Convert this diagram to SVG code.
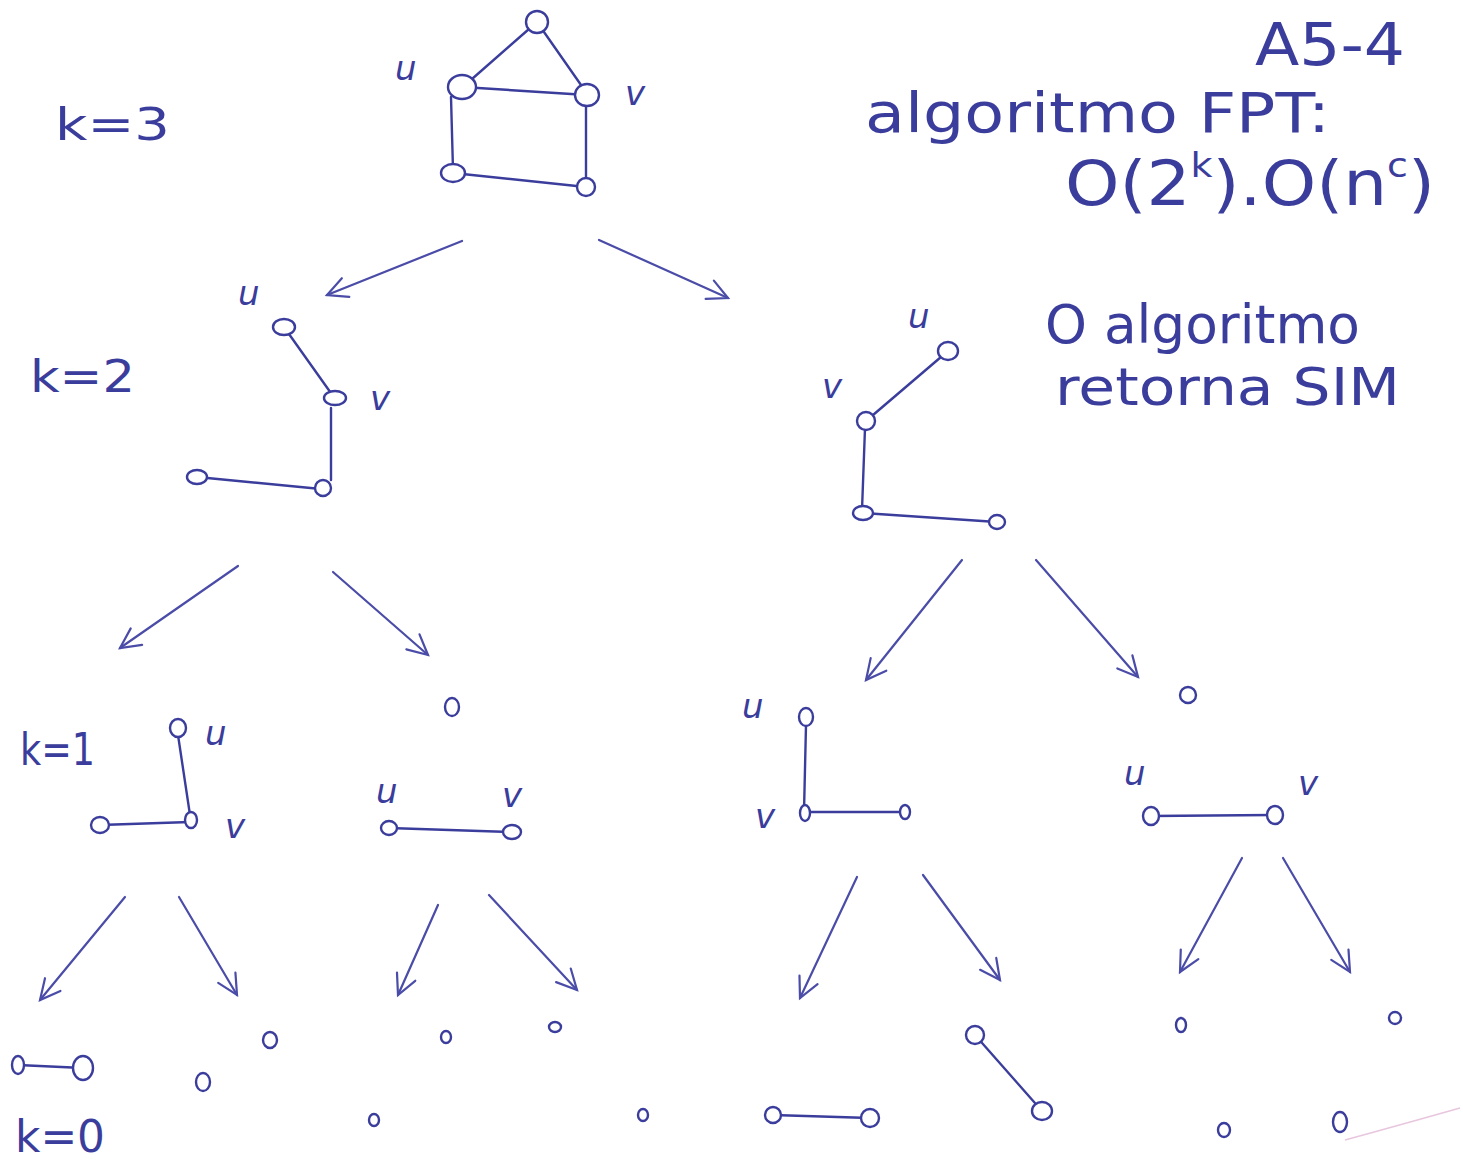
<svg xmlns="http://www.w3.org/2000/svg" width="1463" height="1160" viewBox="0 0 1463 1160">
<style>
.e{stroke:#3b3d9c;stroke-width:2.4;fill:none;stroke-linecap:round}
.n{stroke:#3b3d9c;stroke-width:2.4;fill:#fff}
.a{stroke:#4a4ca8;stroke-width:2.2;fill:none;stroke-linecap:round}
.t{fill:#3b3d9c;font-family:"DejaVu Sans","Liberation Sans",sans-serif;font-weight:normal}
.l{fill:#3b3d9c;font-family:"DejaVu Sans","Liberation Sans",sans-serif;font-size:34px;font-style:italic}
</style>
<defs>
<marker id="ah" markerUnits="userSpaceOnUse" markerWidth="26" markerHeight="26" refX="22" refY="12" orient="auto">
<path d="M2,2 L22,12 L2,22" fill="none" stroke="#4a4ca8" stroke-width="2.2" stroke-linecap="round"/>
</marker>
</defs>
<rect width="1463" height="1160" fill="#fff"/>
<g id="texts">
<text class="t" x="1255" y="65" font-size="58" textLength="150" lengthAdjust="spacingAndGlyphs">A5-4</text>
<text class="t" x="865" y="132" font-size="56" textLength="465" lengthAdjust="spacingAndGlyphs">algoritmo FPT:</text>
<text class="t" x="1065" y="205" font-size="62" textLength="370" lengthAdjust="spacingAndGlyphs">O(2<tspan font-size="34" dy="-28">k</tspan><tspan dy="28">).O(n</tspan><tspan font-size="34" dy="-28">c</tspan><tspan dy="28">)</tspan></text>
<text class="t" x="1045" y="343" font-size="54" textLength="315" lengthAdjust="spacingAndGlyphs">O algoritmo</text>
<text class="t" x="1055" y="405" font-size="52" textLength="345" lengthAdjust="spacingAndGlyphs">retorna SIM</text>
<text class="t" x="55" y="140" font-size="44" textLength="115" lengthAdjust="spacingAndGlyphs">k=3</text>
<text class="t" x="30" y="392" font-size="44" textLength="105" lengthAdjust="spacingAndGlyphs">k=2</text>
<text class="t" x="20" y="765" font-size="44" textLength="75" lengthAdjust="spacingAndGlyphs">k=1</text>
<text class="t" x="15" y="1152" font-size="44" textLength="90" lengthAdjust="spacingAndGlyphs">k=0</text>
</g>
<g id="connectors">
<line class="a" x1="462" y1="241" x2="327" y2="295" marker-end="url(#ah)"/>
<line class="a" x1="599" y1="240" x2="728" y2="298" marker-end="url(#ah)"/>
<line class="a" x1="238" y1="566" x2="120" y2="648" marker-end="url(#ah)"/>
<line class="a" x1="333" y1="572" x2="428" y2="655" marker-end="url(#ah)"/>
<line class="a" x1="962" y1="560" x2="866" y2="680" marker-end="url(#ah)"/>
<line class="a" x1="1036" y1="560" x2="1138" y2="677" marker-end="url(#ah)"/>
<line class="a" x1="125" y1="897" x2="40" y2="1000" marker-end="url(#ah)"/>
<line class="a" x1="179" y1="897" x2="237" y2="995" marker-end="url(#ah)"/>
<line class="a" x1="438" y1="905" x2="398" y2="995" marker-end="url(#ah)"/>
<line class="a" x1="489" y1="895" x2="577" y2="990" marker-end="url(#ah)"/>
<line class="a" x1="857" y1="877" x2="800" y2="998" marker-end="url(#ah)"/>
<line class="a" x1="923" y1="875" x2="1000" y2="980" marker-end="url(#ah)"/>
<line class="a" x1="1242" y1="858" x2="1180" y2="972" marker-end="url(#ah)"/>
<line class="a" x1="1283" y1="858" x2="1350" y2="972" marker-end="url(#ah)"/>
</g>
<g id="g3">
<path class="e" d="M537,22 L464,86 M537,22 L588,95 M462,87 L587,95 M451,97 L453,170 M586,105 L586,185 M453,173 L586,187"/>
<circle class="n" cx="537" cy="22" r="11"/>
<ellipse class="n" cx="462" cy="87" rx="14" ry="12"/>
<ellipse class="n" cx="587" cy="95" rx="12" ry="11"/>
<ellipse class="n" cx="453" cy="173" rx="12" ry="9"/>
<circle class="n" cx="586" cy="187" r="9"/>
<text class="l" x="395" y="80">u</text>
<text class="l" x="625" y="105">v</text>
</g>
<g id="g2a">
<path class="e" d="M284,327 L333,396 M331,408 L331,480 M197,477 L321,489"/>
<ellipse class="n" cx="284" cy="327" rx="11" ry="8"/>
<ellipse class="n" cx="335" cy="398" rx="11" ry="7"/>
<circle class="n" cx="323" cy="488" r="8"/>
<ellipse class="n" cx="197" cy="477" rx="10" ry="7"/>
<text class="l" x="238" y="305">u</text>
<text class="l" x="370" y="410">v</text>
</g>
<g id="g2b">
<path class="e" d="M948,351 L866,421 M865,428 L862,510 M863,513 L997,522"/>
<ellipse class="n" cx="948" cy="351" rx="10" ry="9"/>
<ellipse class="n" cx="866" cy="421" rx="9" ry="9"/>
<ellipse class="n" cx="863" cy="513" rx="10" ry="7"/>
<ellipse class="n" cx="997" cy="522" rx="8" ry="7"/>
<text class="l" x="908" y="328">u</text>
<text class="l" x="822" y="398">v</text>
</g>
<g id="g1a">
<path class="e" d="M178,735 L190,815 M100,825 L190,822"/>
<ellipse class="n" cx="178" cy="728" rx="8" ry="9"/>
<ellipse class="n" cx="191" cy="820" rx="6" ry="8"/>
<ellipse class="n" cx="100" cy="825" rx="9" ry="8"/>
<text class="l" x="205" y="745">u</text>
<text class="l" x="225" y="838">v</text>
</g>
<g id="g1b">
<path class="e" d="M389,828 L512,832"/>
<ellipse class="n" cx="452" cy="707" rx="7" ry="9"/>
<ellipse class="n" cx="389" cy="828" rx="8" ry="7"/>
<ellipse class="n" cx="512" cy="832" rx="9" ry="7"/>
<text class="l" x="376" y="803">u</text>
<text class="l" x="502" y="807">v</text>
</g>
<g id="g1c">
<path class="e" d="M806,725 L804,812 M804,812 L905,812"/>
<ellipse class="n" cx="806" cy="717" rx="7" ry="9"/>
<ellipse class="n" cx="805" cy="813" rx="5" ry="8"/>
<ellipse class="n" cx="905" cy="812" rx="5" ry="7"/>
<text class="l" x="742" y="718">u</text>
<text class="l" x="755" y="828">v</text>
</g>
<g id="g1d">
<path class="e" d="M1151,816 L1275,815"/>
<ellipse class="n" cx="1188" cy="695" rx="8" ry="8"/>
<ellipse class="n" cx="1151" cy="816" rx="8" ry="9"/>
<ellipse class="n" cx="1275" cy="815" rx="8" ry="9"/>
<text class="l" x="1124" y="785">u</text>
<text class="l" x="1298" y="795">v</text>
</g>
<g id="g0">
<path class="e" d="M18,1065 L83,1068 M773,1115 L870,1118 M975,1035 L1042,1111"/>
<ellipse class="n" cx="18" cy="1065" rx="6" ry="9"/>
<ellipse class="n" cx="83" cy="1068" rx="10" ry="12"/>
<ellipse class="n" cx="270" cy="1040" rx="7" ry="8"/>
<ellipse class="n" cx="203" cy="1082" rx="7" ry="9"/>
<ellipse class="n" cx="446" cy="1037" rx="5" ry="6"/>
<ellipse class="n" cx="374" cy="1120" rx="5" ry="6"/>
<ellipse class="n" cx="555" cy="1027" rx="6" ry="5"/>
<ellipse class="n" cx="643" cy="1115" rx="5" ry="6"/>
<ellipse class="n" cx="773" cy="1115" rx="8" ry="8"/>
<ellipse class="n" cx="870" cy="1118" rx="9" ry="9"/>
<ellipse class="n" cx="975" cy="1035" rx="9" ry="9"/>
<ellipse class="n" cx="1042" cy="1111" rx="10" ry="9"/>
<ellipse class="n" cx="1181" cy="1025" rx="5" ry="7"/>
<ellipse class="n" cx="1224" cy="1130" rx="6" ry="7"/>
<ellipse class="n" cx="1395" cy="1018" rx="6" ry="6"/>
<ellipse class="n" cx="1340" cy="1122" rx="7" ry="10"/>
</g>
<path d="M1345,1140 Q1400,1125 1460,1108" stroke="#d8a0c8" stroke-width="1.5" fill="none" opacity="0.6"/>
</svg>
